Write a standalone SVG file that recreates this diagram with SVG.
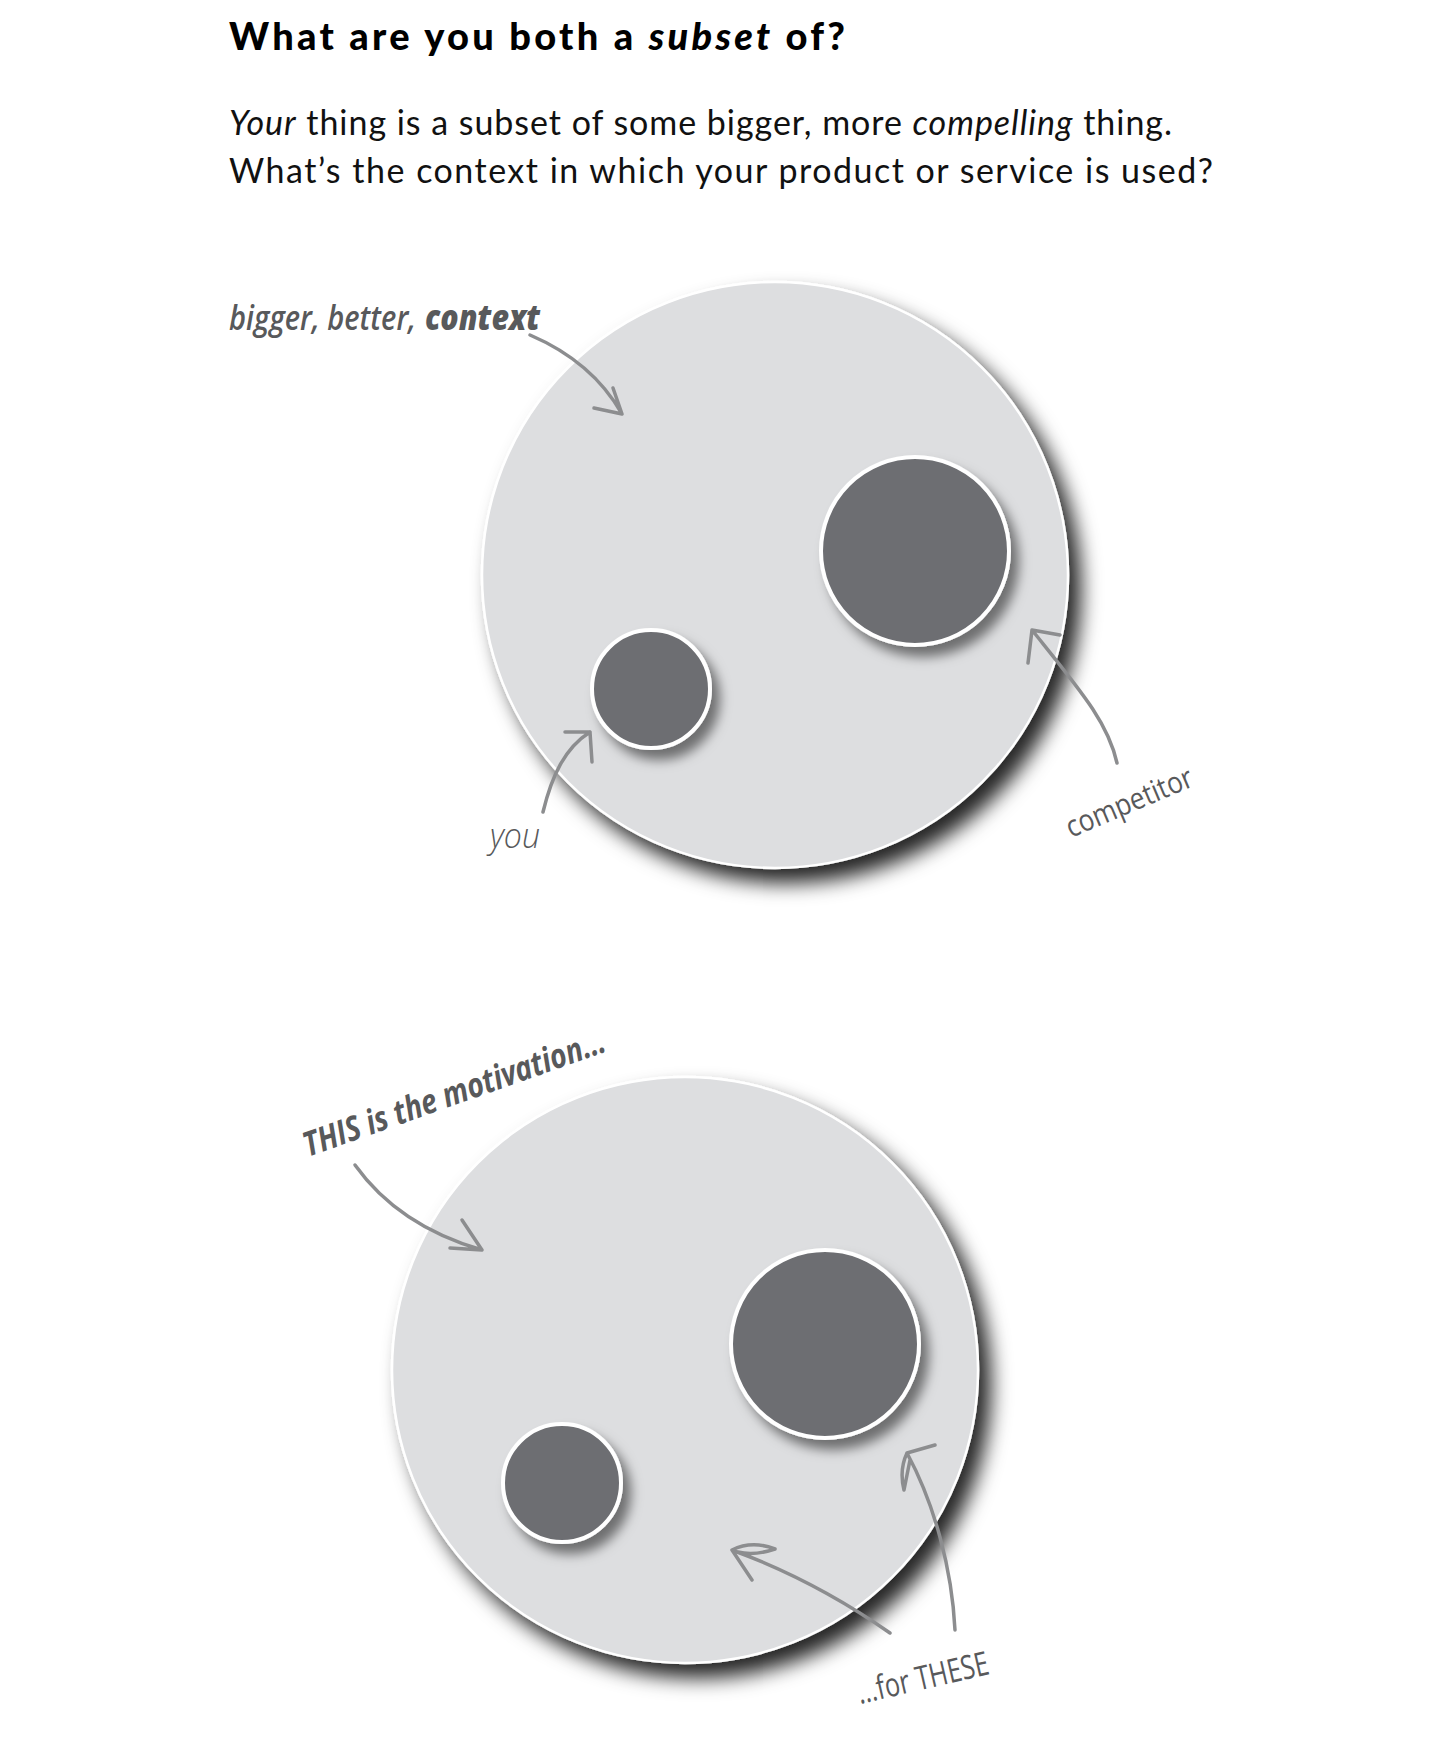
<svg xmlns="http://www.w3.org/2000/svg" width="1436" height="1754" viewBox="0 0 1436 1754">
<defs>
<filter id="bigShadow" x="-20%" y="-20%" width="150%" height="150%">
<feDropShadow dx="12" dy="14" stdDeviation="10" flood-color="#000" flood-opacity="0.85"/>
</filter>
<filter id="smallShadow" x="-30%" y="-30%" width="170%" height="170%">
<feDropShadow dx="8" dy="10" stdDeviation="6" flood-color="#000" flood-opacity="0.5"/>
</filter>
<style>
.ctx{fill:#dddee0;stroke:#fff;stroke-width:2.5;filter:url(#bigShadow)}
.sub{fill:#6d6e72;stroke:#fff;stroke-width:4;filter:url(#smallShadow)}
.title{font-family:Lato,"Liberation Sans",sans-serif;font-weight:900;font-size:38px;fill:#000}
.body{font-family:Lato,"Liberation Sans",sans-serif;font-size:34px;fill:#111}
.lab{font-family:"Open Sans","Liberation Sans",sans-serif;fill:#58595b}
.arr{fill:none;stroke:#8c8d8f;stroke-width:3.5;stroke-linecap:round;stroke-linejoin:round}
</style>
</defs>

<g id="heading">
<text class="title" x="229" y="50" textLength="616">What are you both a <tspan font-style="italic">subset</tspan> of?</text>
<text class="body" x="229" y="135" textLength="943"><tspan font-style="italic">Your</tspan> thing is a subset of some bigger, more <tspan font-style="italic">compelling</tspan> thing.</text>
<text class="body" x="229" y="183" textLength="984">What’s the context in which your product or service is used?</text>
</g>

<g id="context-top"><circle class="ctx" cx="775" cy="575" r="293"/></g>
<g id="competitor-top"><circle class="sub" cx="915" cy="551" r="94"/></g>
<g id="you-top"><circle class="sub" cx="651" cy="689" r="59"/></g>

<g id="context-bottom"><circle class="ctx" cx="685" cy="1370" r="293"/></g>
<g id="competitor-bottom"><circle class="sub" cx="825" cy="1344" r="94"/></g>
<g id="you-bottom"><circle class="sub" cx="562" cy="1483" r="59"/></g>

<g id="labels">
<text class="lab" x="229" y="330" font-size="35" font-style="italic" font-weight="600" textLength="187" lengthAdjust="spacingAndGlyphs">bigger, better,</text>
<text class="lab" x="425" y="330" font-size="35" font-style="italic" font-weight="800" textLength="115" lengthAdjust="spacingAndGlyphs">context</text>
<text class="lab" x="490" y="848" font-size="34" font-style="italic" font-weight="300" textLength="50" lengthAdjust="spacingAndGlyphs">you</text>
<text class="lab" x="0" y="0" font-size="30" font-weight="400" textLength="135" lengthAdjust="spacingAndGlyphs" transform="translate(1071,838) rotate(-23)">competitor</text>
<text class="lab" x="0" y="0" font-size="34" font-weight="700" font-style="italic" textLength="318" lengthAdjust="spacingAndGlyphs" transform="translate(308,1157) rotate(-19.5)">THIS is the motivation…</text>
<text class="lab" x="0" y="0" font-size="33" font-weight="400" textLength="134" lengthAdjust="spacingAndGlyphs" transform="translate(860,1704) rotate(-13)">…for THESE</text>
</g>

<g id="connectors">
<path class="arr" d="M530,335 C565,350 600,375 622,414 M622,414 L613,388 M622,414 L594,408"/>
<path class="arr" d="M543,812 C552,775 565,748 590,732 M590,732 L565,732 M590,732 L592,762"/>
<path class="arr" d="M1117,763 C1108,722 1080,690 1032,630 M1032,630 L1060,635 M1032,630 L1028,663"/>
<path class="arr" d="M355,1165 C380,1200 420,1232 482,1250 M482,1250 L462,1220 M482,1250 L450,1248"/>
<path class="arr" d="M890,1633 C850,1605 800,1575 732,1550 M732,1550 Q752,1540 775,1549 Q754,1556 738,1552 M732,1550 L752,1580"/>
<path class="arr" d="M955,1630 C952,1570 935,1505 907,1453 M907,1453 L935,1445 M907,1453 Q899,1470 904,1490 Q908,1470 910,1460"/>
</g>
</svg>
